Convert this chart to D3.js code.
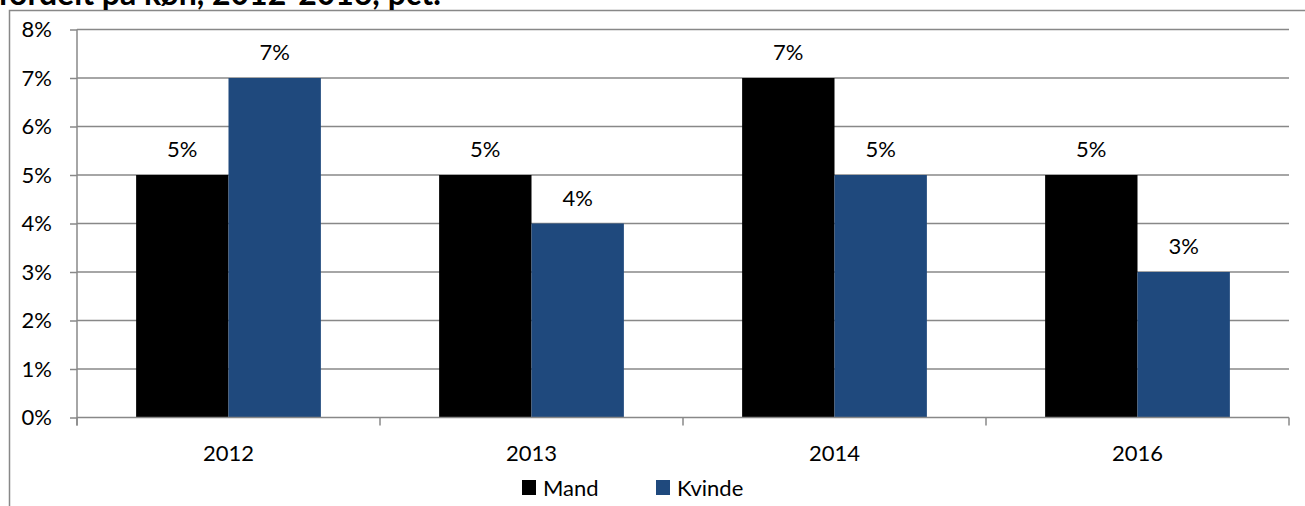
<!DOCTYPE html>
<html lang="da">
<head>
<meta charset="utf-8">
<title>Mand / Kvinde 2012-2016</title>
<style>
  body { margin: 0; background: #fff; }
  text { font-family: Lato, "Open Sans", sans-serif; fill: #000; }
</style>
</head>
<body>
<svg id="chart" width="1305" height="506"></svg>
<script src="https://d3js.org/d3.v7.min.js"></script>
<script>
// data
const years = ["2012", "2013", "2014", "2016"];
const seriesNames = ["Mand", "Kvinde"];
const mand = [5, 5, 7, 5];
const kvinde = [7, 4, 5, 3];
const yTicks = [0, 1, 2, 3, 4, 5, 6, 7, 8];
const colors = ["#000000", "#1F497D"];

const svg = d3.select("#chart");
const axisColor = "#888888";

// plot box
const plotLeft = 77, plotRight = 1289, plotTop = 29.5, plotBottom = 417.5;

const x0 = d3.scaleBand().domain(years).range([plotLeft, plotRight]);
const x1 = d3.scaleBand().domain(seriesNames).range([0, x0.bandwidth()]).paddingOuter(0.64);
const y = d3.scaleLinear().domain([0, 8]).range([plotBottom, plotTop]);

// outer frame (only left + top visible)
svg.append("path")
  .attr("d", "M9.5,506 V10.5 H1305")
  .attr("fill", "none")
  .attr("stroke", axisColor)
  .attr("stroke-width", 1.5);

// title, cut at the top of the picture like in the original
svg.append("text")
  .attr("x", -2)
  .attr("y", 5)
  .attr("font-size", 32)
  .attr("font-weight", "bold")
  .text("fordelt på køn, 2012-2016, pct.");

// gridlines
svg.append("g")
  .selectAll("line")
  .data(yTicks.filter(d => d > 0))
  .join("line")
  .attr("x1", plotLeft).attr("x2", plotRight)
  .attr("y1", d => y(d)).attr("y2", d => y(d))
  .attr("stroke", axisColor)
  .attr("stroke-width", 1.5);

// y axis
const yAxis = svg.append("g")
  .attr("transform", `translate(${plotLeft},0)`)
  .call(d3.axisLeft(y).tickValues(yTicks).tickFormat(d => d + "%").tickSize(7).tickPadding(18));
yAxis.select(".domain").attr("stroke", axisColor).attr("stroke-width", 1.5).attr("d", `M0,${plotBottom + 8}V${plotTop}`);
yAxis.selectAll(".tick line").attr("stroke", axisColor).attr("stroke-width", 1.5);
yAxis.selectAll(".tick text").attr("font-size", 22).attr("font-family", "Lato, sans-serif").attr("fill", "#000");

// bars
const rows = years.map((yr, i) => ({ year: yr, values: [mand[i], kvinde[i]] }));
const groups = svg.append("g")
  .selectAll("g")
  .data(rows)
  .join("g")
  .attr("transform", d => `translate(${x0(d.year)},0)`);

groups.selectAll("rect")
  .data(d => d.values.map((v, j) => ({ key: seriesNames[j], v: v, j: j })))
  .join("rect")
  .attr("x", d => x1(d.key))
  .attr("width", x1.bandwidth())
  .attr("y", d => y(d.v))
  .attr("height", d => y(0) - y(d.v))
  .attr("fill", d => colors[d.j]);

groups.selectAll("text.val")
  .data(d => d.values.map((v, j) => ({ key: seriesNames[j], v: v })))
  .join("text")
  .attr("class", "val")
  .attr("x", d => x1(d.key) + x1.bandwidth() / 2)
  .attr("y", d => y(d.v) - 18)
  .attr("text-anchor", "middle")
  .attr("font-size", 22)
  .text(d => d.v + "%");

// x axis
svg.append("line")
  .attr("x1", plotLeft).attr("x2", plotRight)
  .attr("y1", plotBottom).attr("y2", plotBottom)
  .attr("stroke", axisColor).attr("stroke-width", 1.5);

const boundaries = years.map(yr => x0(yr)).concat([x0(years[years.length - 1]) + x0.bandwidth()]);
svg.append("g")
  .selectAll("line")
  .data(boundaries)
  .join("line")
  .attr("x1", d => d).attr("x2", d => d)
  .attr("y1", plotBottom).attr("y2", plotBottom + 8)
  .attr("stroke", axisColor).attr("stroke-width", 1.5);

svg.append("g")
  .selectAll("text")
  .data(years)
  .join("text")
  .attr("x", d => x0(d) + x0.bandwidth() / 2)
  .attr("y", 461)
  .attr("text-anchor", "middle")
  .attr("font-size", 22)
  .text(d => d);

// legend
const legendX = [522, 656];
const legend = svg.append("g")
  .selectAll("g")
  .data(seriesNames)
  .join("g")
  .attr("transform", (d, i) => `translate(${legendX[i]},480)`);
legend.append("rect")
  .attr("width", 14).attr("height", 15)
  .attr("fill", (d, i) => colors[i]);
legend.append("text")
  .attr("x", 21)
  .attr("y", 16)
  .attr("font-size", 22)
  .text(d => d);
</script>
</body>
</html>
